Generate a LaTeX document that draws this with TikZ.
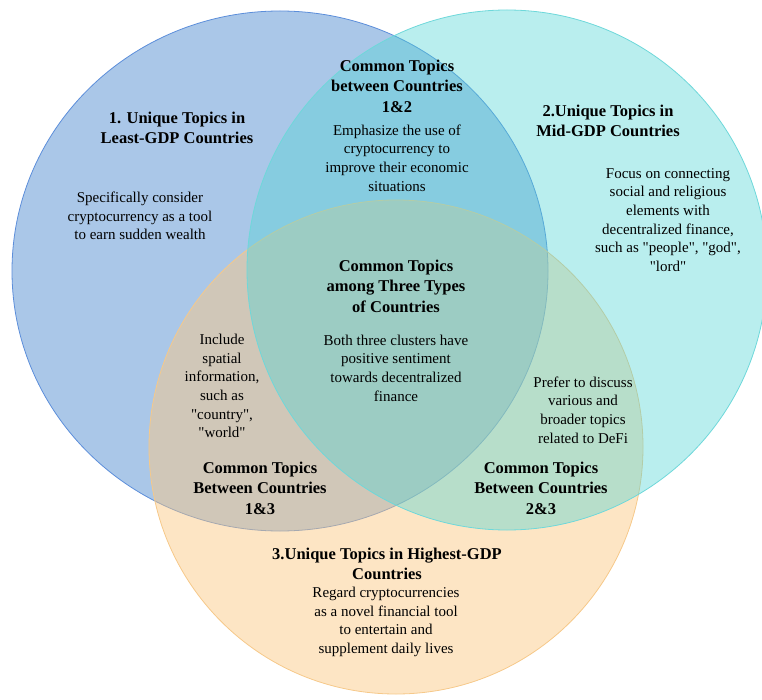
\documentclass[tikz,border=0pt]{standalone}
\usepackage{fontspec}
\setmainfont{Liberation Serif}
\newfontfamily\quotefont{Liberation Serif}
\usetikzlibrary{positioning}

\definecolor{leastfill}{RGB}{170,199,232}
\definecolor{leastline}{RGB}{92,142,218}
\definecolor{midfill}{RGB}{80,212,212}
\definecolor{midline}{RGB}{110,216,218}
\definecolor{highfill}{RGB}{251,200,130}
\definecolor{highline}{RGB}{246,201,138}

\newcommand{\qmark}{{\quotefont"}}

\begin{document}
\begin{tikzpicture}[x=1pt, y=-1pt,
  heading/.style={font=\fontsize{16.5}{20.5}\selectfont\bfseries, align=center, inner sep=0pt},
  body/.style={font=\fontsize{15}{18.7}\selectfont, align=center, inner sep=0pt}]
% Fix the page size
\useasboundingbox (0,0) rectangle (762,700);

% Draw the three circles
\draw[leastline, fill=leastfill, line width=0.8pt] (280,271) ellipse [x radius=268, y radius=260];
\draw[highline, fill=highfill, fill opacity=0.47, line width=0.8pt] (396,447) circle [radius=247];
\draw[midline, fill=midfill, fill opacity=0.4, line width=0.8pt] (507,270) ellipse [x radius=260, y radius=260];

% Least-GDP countries
\node[heading] (least) at (177,128) {1. Unique Topics in\\Least-GDP Countries};
\node[body] (leasttext) at (140,216) {Specifically consider\\cryptocurrency as a tool\\to earn sudden wealth};

% Mid-GDP countries
\node[heading] (mid) at (608,121) {2.Unique Topics in\\Mid-GDP Countries};
\node[body] (midtext) at (668,220) {Focus on connecting\\social and religious\\elements with\\decentralized finance,\\such as \qmark people\qmark, \qmark god\qmark,\\\qmark lord\qmark};

% Highest-GDP countries
\node[heading] (high) at (387,564) {3.Unique Topics in Highest-GDP\\Countries};
\node[body] (hightext) at (386,622) {Regard cryptocurrencies\\as a novel financial tool\\to entertain and\\supplement daily lives};

% Countries 1&2
\node[heading] (onetwo) at (397,86) {Common Topics\\between Countries\\1\&2};
\node[body] (onetwotext) at (397,158) {Emphasize the use of\\cryptocurrency to\\improve their economic\\situations};

% Countries 1&3
\node[body] (onethreetext) at (222,386) {Include\\spatial\\information,\\such as\\\qmark country\qmark,\\\qmark world\qmark};
\node[heading] (onethree) at (260,488) {Common Topics\\Between Countries\\1\&3};

% Countries 2&3
\node[body] (twothreetext) at (583,410) {Prefer to discuss\\various and\\broader topics\\related to DeFi};
\node[heading] (twothree) at (541,488) {Common Topics\\Between Countries\\2\&3};

% All three
\node[heading] (all) at (396,286) {Common Topics\\among Three Types\\of Countries};
\node[body] (alltext) at (396,368) {Both three clusters have\\positive sentiment\\towards decentralized\\finance};

\end{tikzpicture}
\end{document}
